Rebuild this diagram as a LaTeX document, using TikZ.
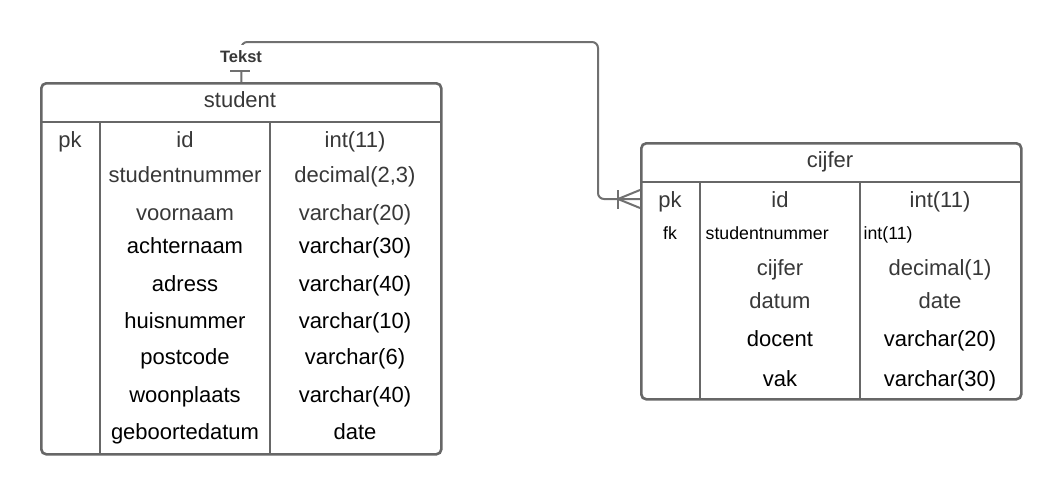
\documentclass[tikz,border=0pt]{standalone}
\usepackage{fontspec}
\setmainfont{Liberation Sans}
\definecolor{lineg}{HTML}{676767}
\definecolor{conng}{HTML}{707070}
\definecolor{txtg}{HTML}{383838}
\definecolor{txtb}{HTML}{000000}
\begin{document}
\begin{tikzpicture}[x=1pt,y=-1pt,
  tbl/.style={draw=lineg, line width=2.6pt, rounded corners=5pt, inner sep=0pt, anchor=north west},
  sep/.style={draw=lineg, line width=2.6pt},
  conn/.style={draw=conng, line width=2pt, rounded corners=6pt},
  endmark/.style={draw=conng, line width=2pt},
  cell/.style={inner sep=0pt, anchor=base, font=\fontsize{22}{26}\selectfont},
  cellg/.style={cell, text=txtg},
  cellb/.style={cell, text=txtb},
  small/.style={inner sep=0pt, anchor=base west, font=\fontsize{17.7}{20}\selectfont, text=txtb},
  lbl/.style={inner xsep=1pt, inner ysep=0pt, minimum height=25pt, fill=white, font=\bfseries\fontsize{16.5}{18}\selectfont, text=txtg}
]
\useasboundingbox[fill=white] (0,0) rectangle (1060,496);

% student table
\node[tbl, minimum width=400pt, minimum height=371pt] (student) at (40,82) {};
\draw[sep] (40,122) -- (440,122);
\draw[sep] (100,122) -- (100,453);
\draw[sep] (270,122) -- (270,453);

\node[cellg] (sh) at (240,107) {student};
\node[cellg] (s1a) at (70,147) {pk};
\node[cellg] (s1b) at (185,147) {id};
\node[cellg] (s1c) at (355,147) {int(11)};
\node[cellg] (s2b) at (185,182) {studentnummer};
\node[cellg] (s2c) at (355,182) {decimal(2,3)};
\node[cellg] (s3b) at (185,220) {voornaam};
\node[cellg] (s3c) at (355,220) {varchar(20)};
\node[cellb] (s4b) at (185,253) {achternaam};
\node[cellb] (s4c) at (355,253) {varchar(30)};
\node[cellb] (s5b) at (185,291) {adress};
\node[cellb] (s5c) at (355,291) {varchar(40)};
\node[cellb] (s6b) at (185,328) {huisnummer};
\node[cellb] (s6c) at (355,328) {varchar(10)};
\node[cellb] (s7b) at (185,364) {postcode};
\node[cellb] (s7c) at (355,364) {varchar(6)};
\node[cellb] (s8b) at (185,402) {woonplaats};
\node[cellb] (s8c) at (355,402) {varchar(40)};
\node[cellb] (s9b) at (185,439) {geboortedatum};
\node[cellb] (s9c) at (355,439) {date};

% cijfer table
\node[tbl, minimum width=380pt, minimum height=256pt] (cijfer) at (640,142) {};
\draw[sep] (640,182) -- (1020,182);
\draw[sep] (700,182) -- (700,398);
\draw[sep] (860,182) -- (860,398);

\node[cellg] (ch) at (830,167) {cijfer};
\node[cellg] (c1a) at (670,207) {pk};
\node[cellg] (c1b) at (780,207) {id};
\node[cellg] (c1c) at (940,207) {int(11)};
\node[small, anchor=base] (c2a) at (670,239.5) {fk};
\node[small] (c2b) at (705.5,239.5) {studentnummer};
\node[small] (c2c) at (863.5,239.5) {int(11)};
\node[cellg] (c3b) at (780,275) {cijfer};
\node[cellg] (c3c) at (940,275) {decimal(1)};
\node[cellg] (c4b) at (780,308) {datum};
\node[cellg] (c4c) at (940,308) {date};
\node[cellb] (c5b) at (780,346) {docent};
\node[cellb] (c5c) at (940,346) {varchar(20)};
\node[cellb] (c6b) at (780,386) {vak};
\node[cellb] (c6c) at (940,386) {varchar(30)};

% connector
\coordinate (bend) at (598,42);
\coordinate (cin) at (640,199);
\draw[conn] (student.north) |- (bend) |- (cin);
\node[lbl] (tekst) at (241,57) {Tekst};
% one mark at student
\coordinate (t1) at (230,71);
\coordinate (t2) at (250,71);
\draw[endmark] (t1) -- (t2);
% crow's foot at cijfer
\coordinate (cf) at (618,199);
\coordinate (cfa) at (618,190);
\coordinate (cfb) at (618,209);
\coordinate (cfu) at (640,190);
\coordinate (cfd) at (640,208);
\draw[endmark] (cfa) -- (cfb);
\draw[endmark] (cf) -- (cfu);
\draw[endmark] (cf) -- (cfd);
\end{tikzpicture}
\end{document}
